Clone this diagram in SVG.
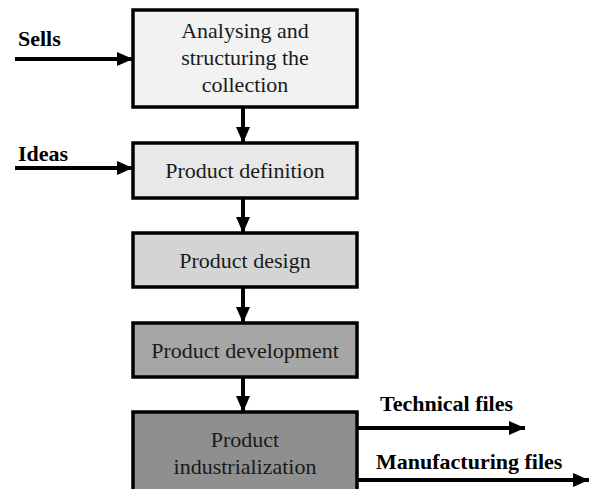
<svg xmlns="http://www.w3.org/2000/svg" width="590" height="489" viewBox="0 0 590 489">
<defs>
<style>
.box{stroke:#000;stroke-width:3.5}
.t{font-family:"Liberation Serif","Times New Roman",serif;font-size:22px;fill:#1a1a1a;text-anchor:middle}
.lb{font-family:"Liberation Serif","Times New Roman",serif;font-size:22px;font-weight:bold;fill:#000}
.c{stroke:#000;stroke-width:4;fill:none}
</style>
<marker id="ah" markerUnits="userSpaceOnUse" markerWidth="17" markerHeight="16" refX="16" refY="8" orient="auto" viewBox="0 0 17 16">
<path d="M0,1 L16,8 L0,15 Z" fill="#000"/>
</marker>
</defs>
<rect width="590" height="489" fill="#fff"/>
<g id="n1"><rect class="box" x="133" y="10" width="224" height="97" fill="#f2f2f2"/>
<text class="t" x="245" y="38">Analysing  and</text>
<text class="t" x="245" y="65">structuring the</text>
<text class="t" x="245" y="92">collection</text></g>
<g id="n2"><rect class="box" x="133" y="143" width="224" height="55" fill="#e8e8e8"/>
<text class="t" x="245" y="178">Product definition</text></g>
<g id="n3"><rect class="box" x="133" y="233" width="224" height="54" fill="#d4d4d4"/>
<text class="t" x="245" y="268">Product design</text></g>
<g id="n4"><rect class="box" x="133" y="323" width="224" height="54" fill="#a6a6a6"/>
<text class="t" x="245" y="358">Product development</text></g>
<g id="n5"><rect class="box" x="133" y="412" width="224" height="90" fill="#8f8f8f"/>
<text class="t" x="245" y="447">Product</text>
<text class="t" x="245" y="474">industrialization</text></g>
<g id="connectors">
<line class="c" x1="15" y1="59" x2="133" y2="59" marker-end="url(#ah)"/>
<line class="c" x1="15" y1="168" x2="133" y2="168" marker-end="url(#ah)"/>
<line class="c" x1="243" y1="107" x2="243" y2="143" marker-end="url(#ah)"/>
<line class="c" x1="243" y1="198" x2="243" y2="233" marker-end="url(#ah)"/>
<line class="c" x1="243" y1="287" x2="243" y2="323" marker-end="url(#ah)"/>
<line class="c" x1="243" y1="377" x2="243" y2="412" marker-end="url(#ah)"/>
<line class="c" x1="357" y1="428" x2="525" y2="428" marker-end="url(#ah)"/>
<line class="c" x1="357" y1="480" x2="589" y2="480" marker-end="url(#ah)"/>
</g>
<text class="lb" x="18" y="46">Sells</text>
<text class="lb" x="18" y="161">Ideas</text>
<text class="lb" x="380" y="411">Technical files</text>
<text class="lb" x="376" y="469">Manufacturing files</text>
</svg>
